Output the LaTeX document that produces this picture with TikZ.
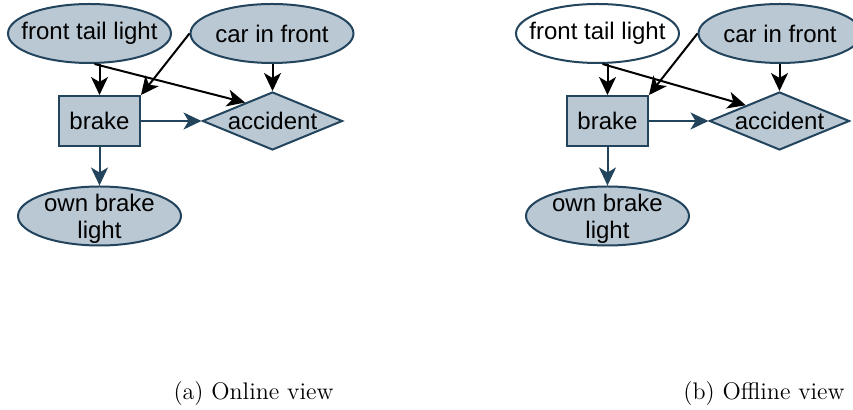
\documentclass[tikz,border=0pt]{standalone}
\usepackage{fontspec}
\newfontfamily\nodefont{Liberation Sans}
\usetikzlibrary{shapes.geometric,arrows.meta}
\definecolor{nfill}{HTML}{BAC8D3}
\definecolor{nstroke}{HTML}{23445D}
\begin{document}
\begin{tikzpicture}[x=0.5pt,y=-0.5pt,
  base/.style={draw=nstroke, line width=1pt, fill=nfill, font=\nodefont\fontsize{12}{13.5}\selectfont, inner sep=0pt, text=black, align=center},
  ell/.style={base, ellipse, minimum width=81.5pt, minimum height=29.5pt},
  whiteell/.style={ell, fill=white},
  lbl/.style={font=\nodefont\fontsize{12}{13.5}\selectfont, inner sep=0pt, text=black, align=center},
  box/.style={base, rectangle, minimum width=40.5pt, minimum height=25pt},
  dia/.style={base, diamond, minimum width=70pt, minimum height=29pt, aspect=2.4},
  blk/.style={line width=1pt, draw=black, -{Stealth[length=9pt,width=8.5pt,inset=2.5pt]}},
  blu/.style={line width=1pt, draw=nstroke, -{Stealth[length=9pt,width=8.5pt,inset=2.5pt]}},
  captext/.style={font=\fontsize{12}{14}\selectfont, anchor=base}]
\useasboundingbox (0,0) rectangle (853,410);
\clip (0,0) rectangle (853,410);
\fill[white] (0,0) rectangle (853,410);

% ---- panel (a)
\node[ell] (aftl) at (89.5,33.5) {};
\node[lbl] (aftlt) at (aftl) {front tail light};
\node[ell] (acar) at (272,33.5) {};
\node[lbl] (acart) at (acar) {car in front};
\node[box] (abrake) at (99.5,121) {brake};
\node[dia] (aacc) at (272.5,121) {accident};
\node[ell] (aobl) at (99.5,216) {};
\node[lbl] (aoblt) at ([yshift=-1.5pt]aobl.center) {own brake\\light};
\draw[blk] (aftl.south -| abrake.north) -- (abrake.north);
\draw[blk] ([xshift=2.5pt]aftl.south) -- (aacc.146);
\draw[blk] (acar.west) -- (abrake.north east);
\draw[blk] (acar.south -| aacc.north) -- (aacc.north);
\draw[blu] (abrake.east) -- (aacc.west);
\draw[blu] (abrake.south) -- (aobl.north);
\node[captext] (capa) at (253.5,400) {(a) Online view};

% ---- panel (b)
\node[whiteell] (bftl) at (597.5,33.5) {};
\node[lbl] (bftlt) at (bftl) {front tail light};
\node[ell] (bcar) at (780,33.5) {};
\node[lbl] (bcart) at (bcar) {car in front};
\node[box] (bbrake) at (607.5,121) {brake};
\node[dia] (bacc) at (779.5,121) {accident};
\node[ell] (bobl) at (607.5,216) {};
\node[lbl] (boblt) at ([yshift=-1.5pt]bobl.center) {own brake\\light};
\draw[blk] (bftl.south -| bbrake.north) -- (bbrake.north);
\draw[blk] ([xshift=2.5pt]bftl.south) -- (bacc.155);
\draw[blk] (bcar.west) -- (bbrake.north east);
\draw[blk] (bcar.south -| bacc.north) -- (bacc.north);
\draw[blu] (bbrake.east) -- (bacc.west);
\draw[blu] (bbrake.south) -- (bobl.north);
\node[captext] (capb) at (764,400) {(b) Offline view};
\end{tikzpicture}
\end{document}
